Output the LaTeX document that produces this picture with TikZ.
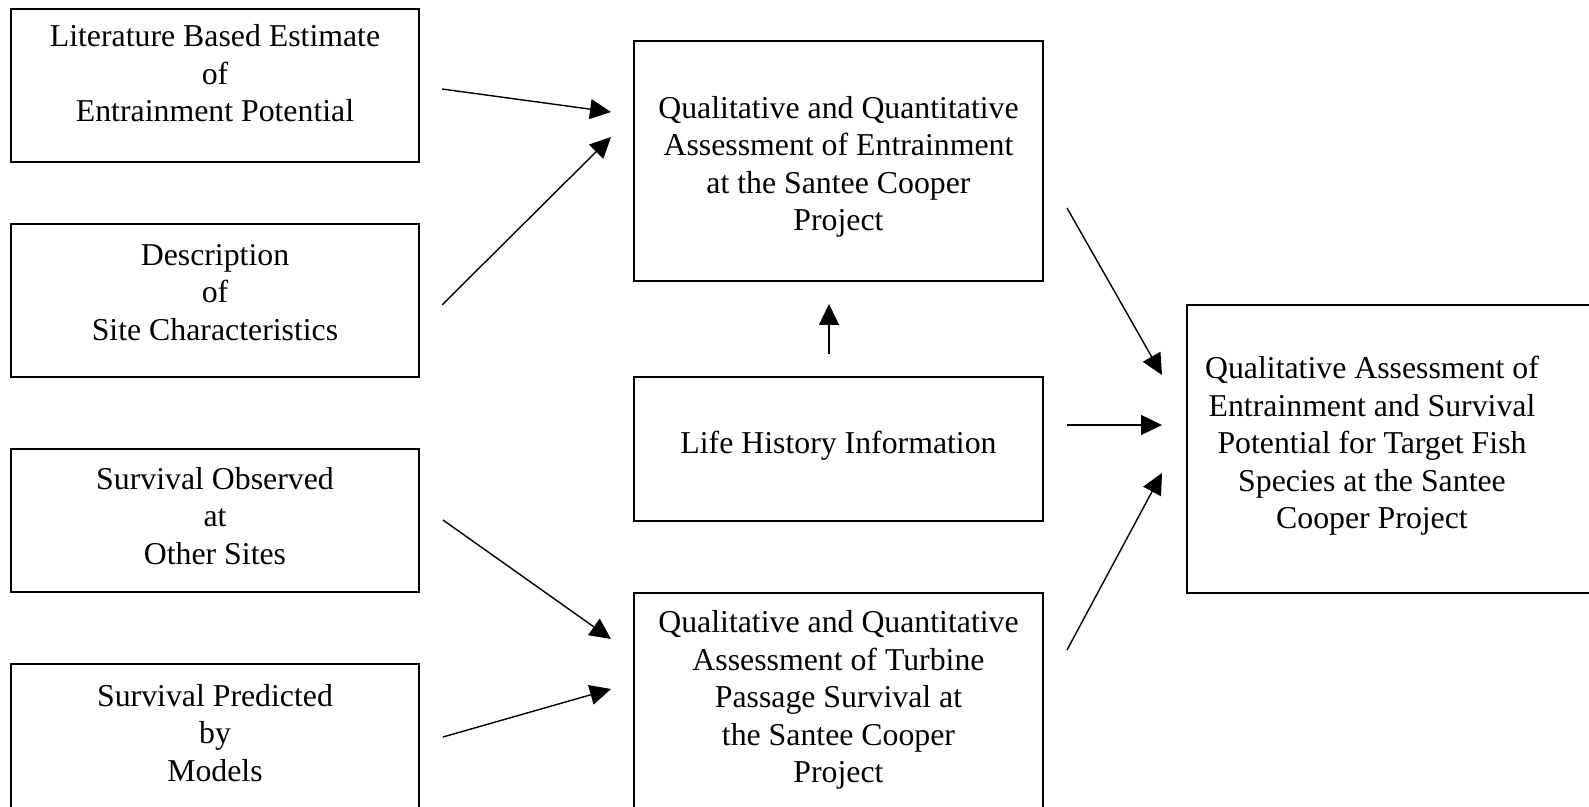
\documentclass[tikz,border=0pt]{standalone}
\usepackage{fontspec}
\setmainfont{Liberation Serif}
\usetikzlibrary{arrows.meta,positioning}
\tikzstyle{box} = [draw, line width=1pt, inner sep=0pt]
\tikzstyle{txt} = [align=center, inner sep=0pt,
  font=\fontsize{18.1pt}{21.3pt}\selectfont]
\tikzstyle{arrow} = [line width=0.8pt, -{Triangle[length=0.42cm,width=0.4cm]}]

\begin{document}
\begin{tikzpicture}[x=0.02cm, y=-0.02cm]
    \useasboundingbox (0,0) rectangle (1589,807);
    % left column
    \node[box, minimum width=8.16cm, minimum height=3.06cm,
        label={[txt, yshift=0.24cm]center:Literature Based Estimate\\of\\Entrainment Potential}] (lit) at (215,85.5) {};
    \node[box, minimum width=8.16cm, minimum height=3.06cm,
        label={[txt, yshift=0.16cm]center:Description\\of\\Site Characteristics}] (site) at (215,300.5) {};
    \node[box, minimum width=8.16cm, minimum height=2.86cm,
        label={[txt, yshift=0.09cm]center:Survival Observed\\at\\Other Sites}] (obs) at (215,520.5) {};
    \node[box, minimum width=8.16cm, minimum height=3.06cm,
        label={[txt, yshift=0.15cm]center:Survival Predicted\\by\\Models}] (pred) at (215,740.5) {};
    % middle column
    \node[box, minimum width=8.18cm, minimum height=4.8cm,
        label={[txt, yshift=-0.12cm]center:Qualitative and Quantitative\\Assessment of Entrainment\\at the Santee Cooper\\Project}] (entr) at (838.5,161) {};
    \node[box, minimum width=8.18cm, minimum height=2.88cm,
        label={[txt, yshift=0.06cm]center:Life History Information}] (life) at (838.5,449) {};
    \node[box, minimum width=8.18cm, minimum height=4.8cm,
        label={[txt, yshift=0.26cm]center:Qualitative and Quantitative\\Assessment of Turbine\\Passage Survival at\\the Santee Cooper\\Project}] (turb) at (838.5,713) {};
    % right column
    \node[box, minimum width=8.26cm, minimum height=5.76cm,
        label={[txt, xshift=-0.43cm, yshift=0.06cm]center:Qualitative Assessment of\\Entrainment and Survival\\Potential for Target Fish\\Species at the Santee\\Cooper Project}] (target) at (1393.5,449) {};
    % arrow ends
    \coordinate (litA) at (442,89);   \coordinate (entrA) at (611,112);
    \coordinate (siteA) at (442,305); \coordinate (entrB) at (611,137);
    \coordinate (obsA) at (443,520);  \coordinate (turbA) at (611,639);
    \coordinate (predA) at (443,737); \coordinate (turbB) at (611,689);
    \coordinate (lifeA) at (829,354); \coordinate (entrC) at (829,304);
    \coordinate (entrD) at (1067,208); \coordinate (targetA) at (1162,375);
    \coordinate (lifeB) at (1067,425); \coordinate (targetB) at (1162,425);
    \coordinate (turbC) at (1067,650); \coordinate (targetC) at (1162,473);
    \foreach \s/\t in {litA/entrA, siteA/entrB, obsA/turbA, predA/turbB,
        lifeA/entrC, entrD/targetA, lifeB/targetB, turbC/targetC}
        \draw[arrow] (\s) -- (\t);
\end{tikzpicture}
\end{document}
